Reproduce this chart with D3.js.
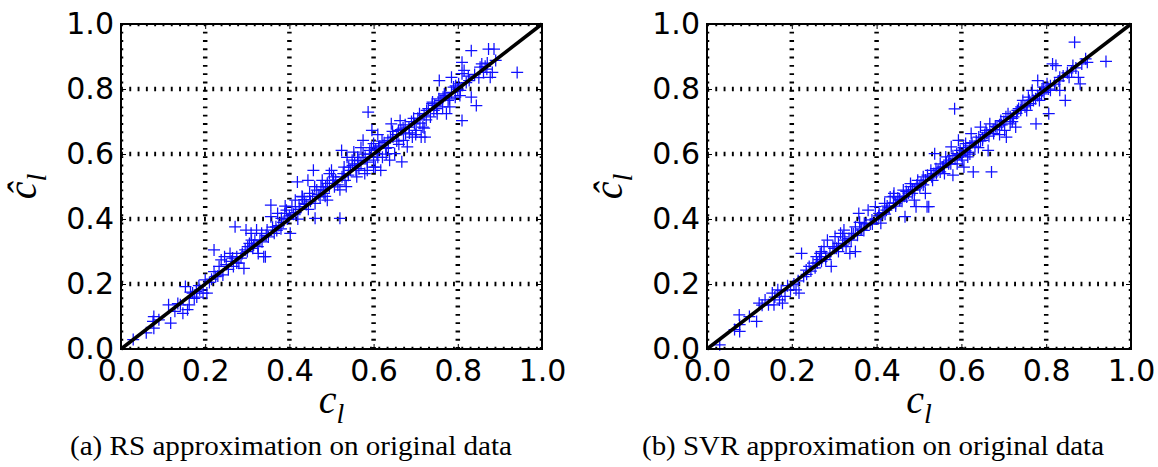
<!DOCTYPE html>
<html>
<head>
<meta charset="utf-8">
<script src="https://cdn.jsdelivr.net/npm/d3@7"></script>
<style>
  body { margin: 0; background: #fff; }
  svg { display: block; }
</style>
</head>
<body>
<script>
// Axis ticks shared by both panels
const tickValues = [0, 0.2, 0.4, 0.6, 0.8, 1.0];
const tickLabels = ["0.0", "0.2", "0.4", "0.6", "0.8", "1.0"];

// Panel captions
const captions = [
  "(a) RS approximation on original data",
  "(b) SVR approximation on original data"
];

// Response-surface model: [true c_l, predicted c_l]
const rsPoints = [
  [0.029,0.029],[0.078,0.100],[0.078,0.064],[0.076,0.085],[0.113,0.136],[0.118,0.080],[0.128,0.116],
  [0.141,0.136],[0.147,0.110],[0.153,0.192],[0.158,0.121],[0.162,0.136],[0.170,0.172],[0.174,0.156],
  [0.179,0.177],[0.187,0.182],[0.195,0.172],[0.204,0.172],[0.200,0.213],[0.221,0.305],[0.221,0.238],
  [0.225,0.223],[0.233,0.254],[0.238,0.274],[0.242,0.228],[0.246,0.284],[0.259,0.294],[0.267,0.254],
  [0.271,0.376],[0.275,0.284],[0.280,0.264],[0.288,0.294],[0.292,0.248],[0.297,0.366],[0.301,0.315],
  [0.305,0.325],[0.309,0.356],[0.313,0.310],[0.318,0.335],[0.322,0.366],[0.326,0.294],[0.334,0.356],
  [0.339,0.284],[0.343,0.284],[0.347,0.366],[0.356,0.443],[0.356,0.407],[0.364,0.356],[0.368,0.376],
  [0.372,0.417],[0.381,0.402],[0.389,0.417],[0.393,0.427],[0.402,0.356],[0.406,0.438],[0.414,0.458],
  [0.419,0.514],[0.423,0.438],[0.431,0.468],[0.436,0.448],[0.444,0.519],[0.448,0.479],[0.457,0.550],
  [0.461,0.448],[0.461,0.402],[0.465,0.489],[0.473,0.468],[0.478,0.519],[0.482,0.479],[0.486,0.499],
  [0.490,0.458],[0.495,0.540],[0.503,0.519],[0.507,0.499],[0.520,0.402],[0.524,0.611],[0.528,0.540],
  [0.532,0.519],[0.537,0.590],[0.541,0.560],[0.549,0.581],[0.553,0.606],[0.558,0.550],[0.562,0.590],
  [0.570,0.570],[0.575,0.642],[0.579,0.540],[0.587,0.729],[0.591,0.611],[0.596,0.673],[0.600,0.581],
  [0.600,0.632],[0.604,0.560],[0.608,0.601],[0.612,0.622],[0.617,0.550],[0.621,0.590],[0.629,0.617],
  [0.634,0.642],[0.638,0.581],[0.642,0.693],[0.646,0.652],[0.650,0.601],[0.659,0.673],[0.663,0.703],
  [0.667,0.576],[0.671,0.642],[0.676,0.662],[0.680,0.622],[0.684,0.683],[0.692,0.652],[0.697,0.693],
  [0.701,0.673],[0.709,0.724],[0.713,0.652],[0.717,0.683],[0.722,0.652],[0.726,0.734],[0.735,0.714],
  [0.739,0.755],[0.743,0.734],[0.751,0.724],[0.756,0.826],[0.760,0.765],[0.764,0.745],[0.768,0.785],
  [0.773,0.724],[0.777,0.765],[0.781,0.745],[0.785,0.836],[0.790,0.806],[0.794,0.775],[0.802,0.816],
  [0.806,0.796],[0.810,0.703],[0.810,0.847],[0.810,0.882],[0.815,0.857],[0.827,0.826],[0.832,0.775],
  [0.832,0.918],[0.844,0.749],[0.853,0.867],[0.857,0.877],[0.861,0.851],[0.869,0.861],[0.873,0.923],
  [0.877,0.836],[0.882,0.851],[0.886,0.923],[0.890,0.888],[0.941,0.851],
  [0.185,0.195],[0.210,0.205],[0.255,0.245],[0.262,0.270],[0.285,0.280],[0.300,0.300],[0.315,0.320],
  [0.330,0.335],[0.345,0.350],[0.370,0.365],[0.385,0.390],[0.395,0.400],[0.410,0.415],[0.425,0.430],
  [0.440,0.445],[0.450,0.455],[0.470,0.475],[0.480,0.490],[0.495,0.500],[0.510,0.520],[0.525,0.530],
  [0.545,0.550],[0.555,0.570],[0.565,0.580],[0.580,0.590],[0.590,0.600],[0.605,0.615],[0.615,0.625],
  [0.625,0.635],[0.640,0.650],[0.655,0.660],[0.665,0.675],[0.675,0.690],[0.690,0.700],[0.705,0.710],
  [0.720,0.720],[0.730,0.740],[0.745,0.750],[0.755,0.770],[0.770,0.780],[0.785,0.790],[0.800,0.800],
  [0.820,0.820],[0.840,0.845],[0.865,0.870],[0.520,0.490],[0.535,0.500],[0.560,0.530],[0.585,0.550],
  [0.600,0.560],[0.630,0.600],[0.660,0.630],[0.700,0.660],[0.720,0.680],[0.610,0.660],[0.570,0.620],
  [0.500,0.550],[0.460,0.500],[0.430,0.470],[0.390,0.440],
  [0.060,0.050],[0.090,0.090],[0.135,0.140],[0.165,0.175],[0.180,0.160],[0.215,0.215],[0.230,0.225],
  [0.250,0.260],[0.265,0.280],[0.275,0.265],[0.295,0.305],[0.310,0.335],[0.325,0.315],[0.335,0.330],
  [0.350,0.345],[0.360,0.375],[0.375,0.380],[0.380,0.370],[0.400,0.410],[0.415,0.420],[0.420,0.400],
  [0.435,0.460],[0.445,0.430],[0.455,0.470],[0.475,0.500],[0.485,0.470],[0.490,0.510],[0.505,0.530],
  [0.515,0.505],[0.530,0.560],[0.540,0.535],[0.550,0.565],[0.565,0.555],[0.575,0.600],[0.585,0.575],
  [0.595,0.620],[0.610,0.590],[0.620,0.640],[0.635,0.620],[0.645,0.670],[0.655,0.640],[0.670,0.680],
  [0.685,0.665],[0.695,0.710],[0.710,0.695],[0.725,0.705],[0.740,0.760],[0.750,0.740],[0.765,0.775],
  [0.780,0.770],[0.795,0.810],[0.805,0.780],[0.825,0.840],[0.850,0.835],[0.870,0.880]
];

// Support-vector regression model: [true c_l, predicted c_l]
const svrPoints = [
  [0.030,0.013],[0.076,0.105],[0.077,0.075],[0.077,0.054],[0.117,0.085],[0.123,0.141],[0.137,0.151],
  [0.145,0.136],[0.154,0.172],[0.158,0.136],[0.167,0.182],[0.171,0.151],[0.178,0.141],[0.184,0.162],
  [0.197,0.182],[0.210,0.182],[0.217,0.172],[0.223,0.294],[0.228,0.223],[0.234,0.243],[0.241,0.254],
  [0.250,0.264],[0.258,0.284],[0.267,0.294],[0.276,0.315],[0.280,0.284],[0.284,0.335],[0.293,0.254],
  [0.297,0.315],[0.302,0.346],[0.310,0.325],[0.315,0.356],[0.323,0.366],[0.328,0.315],[0.337,0.294],
  [0.341,0.356],[0.350,0.376],[0.350,0.300],[0.358,0.417],[0.363,0.366],[0.371,0.387],[0.380,0.427],
  [0.389,0.397],[0.397,0.438],[0.406,0.417],[0.410,0.387],[0.419,0.448],[0.423,0.427],[0.432,0.468],
  [0.441,0.479],[0.445,0.448],[0.454,0.458],[0.463,0.489],[0.467,0.407],[0.471,0.468],[0.480,0.509],
  [0.484,0.479],[0.489,0.458],[0.493,0.438],[0.497,0.519],[0.502,0.499],[0.510,0.530],[0.515,0.479],
  [0.519,0.438],[0.523,0.438],[0.528,0.550],[0.532,0.519],[0.537,0.601],[0.541,0.540],[0.550,0.570],
  [0.558,0.560],[0.563,0.591],[0.571,0.581],[0.576,0.622],[0.580,0.535],[0.584,0.739],[0.589,0.601],
  [0.593,0.642],[0.597,0.611],[0.602,0.581],[0.606,0.560],[0.610,0.632],[0.615,0.591],[0.623,0.663],
  [0.628,0.545],[0.632,0.622],[0.641,0.652],[0.645,0.683],[0.650,0.642],[0.658,0.673],[0.663,0.611],
  [0.667,0.693],[0.671,0.545],[0.676,0.663],[0.684,0.683],[0.693,0.703],[0.702,0.673],[0.706,0.652],
  [0.710,0.724],[0.715,0.693],[0.723,0.714],[0.728,0.683],[0.732,0.734],[0.741,0.745],[0.745,0.765],
  [0.754,0.734],[0.758,0.775],[0.763,0.755],[0.767,0.796],[0.776,0.693],[0.780,0.826],[0.784,0.765],
  [0.789,0.785],[0.793,0.806],[0.802,0.816],[0.806,0.724],[0.810,0.796],[0.815,0.877],[0.823,0.872],
  [0.832,0.836],[0.832,0.796],[0.845,0.765],[0.854,0.836],[0.863,0.872],[0.867,0.944],[0.876,0.836],
  [0.880,0.816],[0.884,0.877],[0.893,0.893],[0.897,0.882],[0.941,0.885],
  [0.190,0.195],[0.205,0.200],[0.245,0.240],[0.260,0.265],[0.270,0.270],[0.290,0.295],[0.305,0.310],
  [0.320,0.320],[0.335,0.340],[0.355,0.350],[0.365,0.370],[0.385,0.385],[0.400,0.400],[0.415,0.420],
  [0.430,0.435],[0.440,0.450],[0.455,0.460],[0.465,0.470],[0.475,0.480],[0.490,0.490],[0.505,0.510],
  [0.515,0.520],[0.530,0.530],[0.545,0.550],[0.555,0.560],[0.570,0.570],[0.585,0.585],[0.595,0.600],
  [0.610,0.610],[0.620,0.625],[0.635,0.640],[0.650,0.650],[0.660,0.665],[0.675,0.675],[0.690,0.690],
  [0.700,0.700],[0.715,0.715],[0.730,0.725],[0.740,0.735],[0.755,0.750],[0.770,0.765],[0.780,0.780],
  [0.795,0.790],[0.810,0.810],[0.830,0.825],[0.850,0.850],[0.870,0.865],[0.560,0.540],[0.590,0.570],
  [0.620,0.600],[0.640,0.620],[0.690,0.660],[0.720,0.700],[0.480,0.500],[0.440,0.470],[0.360,0.390],
  [0.320,0.345],[0.270,0.300],
  [0.065,0.060],[0.100,0.100],[0.130,0.135],[0.160,0.160],[0.175,0.180],[0.215,0.210],[0.235,0.230],
  [0.255,0.250],[0.265,0.275],[0.280,0.275],[0.300,0.310],[0.310,0.300],[0.325,0.335],[0.340,0.335],
  [0.345,0.355],[0.370,0.365],[0.375,0.385],[0.390,0.385],[0.405,0.410],[0.420,0.415],[0.425,0.440],
  [0.445,0.440],[0.450,0.465],[0.460,0.455],[0.470,0.485],[0.485,0.490],[0.495,0.505],[0.510,0.505],
  [0.520,0.535],[0.535,0.540],[0.540,0.555],[0.550,0.545],[0.565,0.575],[0.575,0.570],[0.580,0.595],
  [0.600,0.595],[0.605,0.620],[0.615,0.605],[0.625,0.635],[0.645,0.640],[0.655,0.660],[0.665,0.655],
  [0.680,0.685],[0.695,0.690],[0.705,0.715],[0.720,0.710],[0.735,0.740],[0.750,0.745],[0.760,0.765],
  [0.775,0.770],[0.790,0.795],[0.805,0.800],[0.820,0.815],[0.840,0.840],[0.860,0.855]
];

const W = 1158, H = 467;
const plotTop = 24, plotBottom = 349;

const panels = [
  { points: rsPoints,  left: 121, right: 542, yLabelX: 36,  capX: 291, capLen: 442, caption: captions[0] },
  { points: svrPoints, left: 707, right: 1131, yLabelX: 622, capX: 873, capLen: 462, caption: captions[1] }
];

const svg = d3.select("body").append("svg")
  .attr("width", W).attr("height", H);

const fmt = (d, i) => tickLabels[i];

panels.forEach((p, idx) => {
  const x = d3.scaleLinear().domain([0, 1]).range([p.left, p.right]);
  const y = d3.scaleLinear().domain([0, 1]).range([plotBottom, plotTop]);
  const g = svg.append("g");

  const clipId = "clip" + idx;
  svg.append("clipPath").attr("id", clipId)
    .append("rect")
    .attr("x", p.left).attr("y", plotTop)
    .attr("width", p.right - p.left).attr("height", plotBottom - plotTop);

  // dotted grid at every major tick
  const grid = g.append("g").attr("clip-path", `url(#${clipId})`)
    .attr("stroke", "#000").attr("stroke-width", 4.5)
    .attr("stroke-dasharray", "1.9 6.4");
  grid.selectAll("line.v").data(tickValues).join("line").attr("class", "v")
    .attr("x1", d => x(d)).attr("x2", d => x(d))
    .attr("y1", plotBottom).attr("y2", plotTop);
  grid.selectAll("line.h").data(tickValues).join("line").attr("class", "h")
    .attr("x1", p.left).attr("x2", p.right)
    .attr("y1", d => y(d)).attr("y2", d => y(d));

  // '+' markers
  const m = 6;
  g.append("g").attr("stroke", "#1010ff").attr("stroke-width", 1.25).attr("fill", "none")
    .selectAll("path").data(p.points).join("path")
    .attr("d", d => {
      const cx = x(d[0]), cy = y(d[1]);
      return `M${cx - m},${cy}H${cx + m}M${cx},${cy - m}V${cy + m}`;
    });

  // identity line
  g.append("path")
    .datum([[0, 0], [1, 1]])
    .attr("fill", "none").attr("stroke", "#000").attr("stroke-width", 3.5)
    .attr("d", d3.line().x(d => x(d[0])).y(d => y(d[1])));

  // axes with inward ticks
  const styleAxis = sel => {
    sel.select(".domain").remove();
    sel.selectAll(".tick line").attr("stroke", "#000").attr("stroke-width", 1);
    sel.selectAll(".tick text")
      .attr("font-family", "'DejaVu Sans', sans-serif")
      .attr("font-size", 30).attr("fill", "#000");
  };
  g.append("g").attr("transform", `translate(0,${plotBottom})`)
    .call(d3.axisBottom(x).tickValues(tickValues).tickFormat(fmt).tickSize(-5).tickPadding(11))
    .call(styleAxis);
  g.append("g").attr("transform", `translate(${p.left},0)`)
    .call(d3.axisLeft(y).tickValues(tickValues).tickFormat(fmt).tickSize(-5).tickPadding(7))
    .call(styleAxis);
  g.append("g").attr("transform", `translate(0,${plotTop})`)
    .call(d3.axisTop(x).tickValues(tickValues).tickFormat("").tickSize(-5))
    .call(styleAxis);
  g.append("g").attr("transform", `translate(${p.right},0)`)
    .call(d3.axisRight(y).tickValues(tickValues).tickFormat("").tickSize(-5))
    .call(styleAxis);

  // frame
  g.append("rect")
    .attr("x", p.left).attr("y", plotTop)
    .attr("width", p.right - p.left).attr("height", plotBottom - plotTop)
    .attr("fill", "none").attr("stroke", "#000").attr("stroke-width", 2);

  // axis labels
  const mathFont = "'Liberation Serif', 'DejaVu Serif', serif";
  const xl = g.append("text")
    .attr("x", (p.left + p.right) / 2).attr("y", 413)
    .attr("text-anchor", "middle")
    .attr("font-family", mathFont).attr("font-style", "italic").attr("fill", "#000");
  xl.append("tspan").attr("font-size", 40).text("c");
  xl.append("tspan").attr("font-size", 28).attr("dy", 10).text("l");

  const yl = g.append("text")
    .attr("transform", `translate(${p.yLabelX},${(plotTop + plotBottom) / 2}) rotate(-90)`)
    .attr("text-anchor", "middle")
    .attr("font-family", mathFont).attr("font-style", "italic").attr("fill", "#000");
  yl.append("tspan").attr("font-size", 40).text("ĉ");
  yl.append("tspan").attr("font-size", 28).attr("dy", 10).text("l");

  // caption
  g.append("text")
    .attr("x", p.capX).attr("y", 455)
    .attr("text-anchor", "middle")
    .attr("font-family", "'Liberation Serif', serif")
    .attr("font-size", 28).attr("fill", "#000")
    .attr("textLength", p.capLen).attr("lengthAdjust", "spacingAndGlyphs")
    .text(p.caption);
});
</script>
</body>
</html>
